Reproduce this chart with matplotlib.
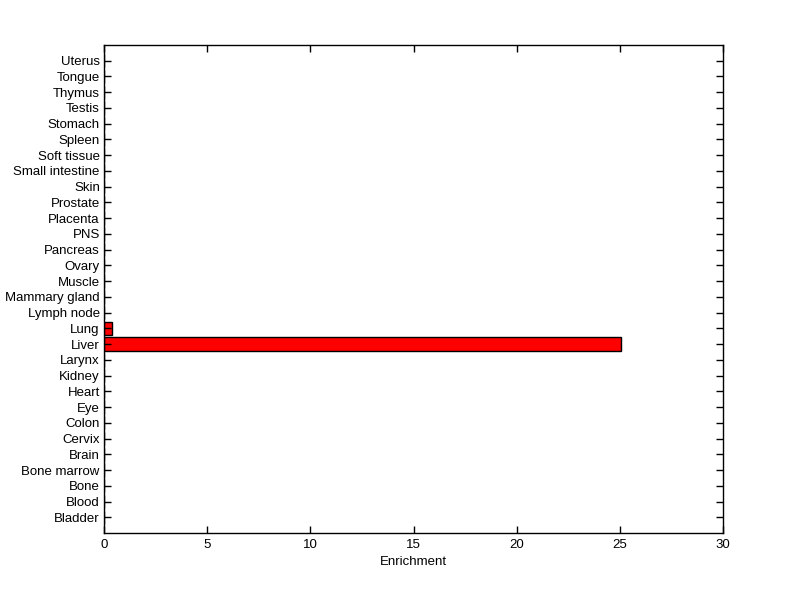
import matplotlib
matplotlib.use('Agg')
import matplotlib.pyplot as plt

tissues = ['Bladder', 'Blood', 'Bone', 'Bone marrow', 'Brain', 'Cervix', 'Colon',
           'Eye', 'Heart', 'Kidney', 'Larynx', 'Liver', 'Lung', 'Lymph node',
           'Mammary gland', 'Muscle', 'Ovary', 'Pancreas', 'PNS', 'Placenta',
           'Prostate', 'Skin', 'Small intestine', 'Soft tissue', 'Spleen',
           'Stomach', 'Testis', 'Thymus', 'Tongue', 'Uterus']
enrichment = [0, 0, 0, 0, 0, 0, 0, 0, 0, 0, 0, 25.08, 0.41, 0, 0, 0, 0, 0, 0, 0,
              0, 0, 0, 0, 0, 0, 0, 0, 0, 0]
xticks = [0, 5, 10, 15, 20, 25, 30]

plt.rcParams['font.family'] = ['Liberation Sans', 'DejaVu Sans']

fig = plt.figure(figsize=(8, 5.99), dpi=100)
ax = fig.add_axes([0.13, 0.1102, 0.77375, 0.8147])

pos = list(range(1, len(tissues) + 1))
ax.barh(pos, enrichment, height=0.85, color='#ff0000', edgecolor='black', linewidth=1)

ax.set_ylim(0, len(tissues) + 1)
ax.set_xlim(0, 30)
ax.set_yticks(pos)
ax.set_yticklabels(tissues)
ax.set_xticks(xticks)
ax.set_xlabel('Enrichment', fontsize=9.5, labelpad=4)
ax.tick_params(direction='in', top=True, right=True, length=5, width=1,
               labelsize=9.5, pad=4)
ax.tick_params(axis='y', pad=3)
for s in ax.spines.values():
    s.set_linewidth(1)

fig.savefig('out.png', dpi=100)
